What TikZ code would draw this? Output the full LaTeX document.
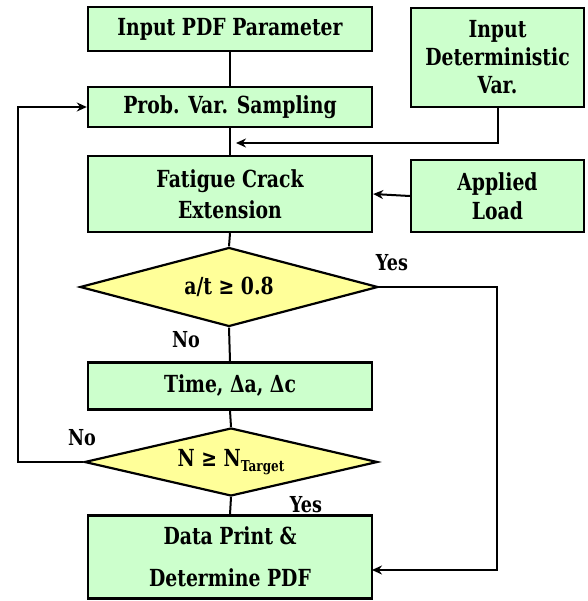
\documentclass[tikz,border=0pt]{standalone}
\usepackage{fontspec}
\setmainfont{DejaVu Serif}[FakeStretch=0.8]
\usetikzlibrary{shapes.geometric,arrows.meta}
\definecolor{boxgreen}{HTML}{CCFFCC}
\definecolor{decyellow}{HTML}{FFFF99}
\begin{document}
\begin{tikzpicture}[x=1pt,y=1pt,
  proc/.style={draw=black, line width=2.4pt, fill=boxgreen, minimum width=284pt,
    inner sep=0pt, align=center, font=\fontsize{23.5}{29}\selectfont\bfseries},
  side/.style={proc, minimum width=173pt},
  decision/.style={draw=black, line width=2.2pt, fill=decyellow, diamond, inner sep=0pt,
    font=\fontsize{23.5}{29}\selectfont\bfseries},
  flow/.style={line width=2pt},
  arr/.style={flow, -{Stealth[length=10pt,width=9pt]}},
  lab/.style={font=\fontsize{22}{26}\selectfont\bfseries}]
\useasboundingbox (0,0) rectangle (587,-601);

% process boxes
\node[proc, minimum height=44pt] (pdf) at (230,-29) {Input PDF Parameter};
\node[proc, minimum height=40pt] (samp) at (230,-107) {Prob. Var. Sampling};
\node[side, minimum height=99pt, font=\fontsize{23.5}{28}\selectfont\bfseries] (det) at (497.5,-57.5) {Input\\Deterministic\\Var.};
\node[proc, minimum height=76pt, font=\fontsize{23.5}{31}\selectfont\bfseries] (crack) at (230,-194) {Fatigue Crack\\Extension};
\node[side, minimum height=72pt] (load) at (497.5,-196) {Applied\\Load};
\node[decision, aspect=3.77, minimum width=298pt, minimum height=79pt] (ratio) at (229,-287) {a/t ≥ 0.8};
\node[proc, minimum height=47pt] (time) at (230,-386) {Time, Δa, Δc};
\node[decision, aspect=4.3, minimum width=293pt, minimum height=68pt] (count) at (231,-462)
  {N ≥ N\raisebox{-5pt}{\fontsize{15}{18}\selectfont Target}};
\node[proc, minimum height=83pt, font=\fontsize{23.5}{42}\selectfont\bfseries] (out) at (230,-557) {Data Print \&\\Determine PDF};

% branch labels
\node[lab] (yes1) at (392,-263) {Yes};
\node[lab] (no1) at (186,-340) {No};
\node[lab] (no2) at (82,-438) {No};
\node[lab] (yes2) at (306,-505) {Yes};

% main column
\draw[flow] (pdf.south) -- (samp.north);
\draw[flow] (samp.south) -- (crack.north);
\draw[flow] (crack.south) -- (ratio.north);
\draw[flow] (ratio.south) -- (time.north);
\draw[flow] (time.south) -- (count.north);
\draw[flow] (count.south) -- (out.north);

% side inputs
\coordinate (detin) at (236,-143);
\draw[arr] (det.south) |- (detin);
\draw[arr] (load.west) -- (crack.east);

% yes branch of the crack ratio test
\coordinate (yesin) at (372,-570);
\draw[arr] (ratio.east) -| (497,-570) -- (yesin);

% loop back for the next sample
\draw[arr] (count.west) -- (18,-462) |- (samp.west);
\end{tikzpicture}
\end{document}
